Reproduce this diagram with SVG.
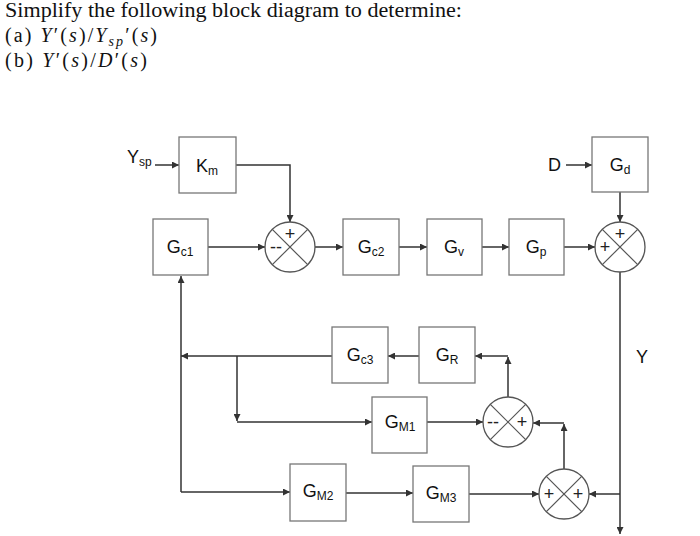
<svg xmlns="http://www.w3.org/2000/svg" width="700" height="536" viewBox="0 0 700 536">
<defs>
<marker id="ah" viewBox="0 0 10 10" refX="10" refY="5" markerWidth="7" markerHeight="7" markerUnits="userSpaceOnUse" orient="auto">
<path d="M0,0 L10,5 L0,10 z" fill="#333"/>
</marker>
<style>
.t{font-family:"Liberation Serif","DejaVu Serif",serif;font-size:20px;fill:#111}
.i{font-style:italic}
.blk rect{fill:#fff;stroke:#777;stroke-width:1.3}
.lbl{font-family:"Liberation Sans",Arial,sans-serif;font-size:18px;fill:#111}
.sub{font-size:12px}
.sum circle{fill:#fff;stroke:#555;stroke-width:1.3}
.sum line{stroke:#555;stroke-width:1.2}
.sg{font-family:"Liberation Sans",Arial,sans-serif;font-size:18px;fill:#222;text-anchor:middle}
.c path,.c line{fill:none;stroke:#333;stroke-width:1.5}
.a{marker-end:url(#ah)}
</style>
</defs>
<rect width="700" height="536" fill="#fff"/>
<g id="title">
<text class="t" x="5" y="17" textLength="457" lengthAdjust="spacingAndGlyphs">Simplify the following block diagram to determine:</text>
<text class="t" x="5" y="42" textLength="152" lengthAdjust="spacing">(a) <tspan class="i">Y</tspan>′(<tspan class="i">s</tspan>)/<tspan class="i">Y</tspan><tspan class="i" font-size="14" dy="4">sp</tspan><tspan dy="-4">′(</tspan><tspan class="i">s</tspan>)</text>
<text class="t" x="5" y="67" textLength="142" lengthAdjust="spacing">(b) <tspan class="i">Y</tspan>′(<tspan class="i">s</tspan>)/<tspan class="i">D</tspan>′(<tspan class="i">s</tspan>)</text>
</g>
<g id="labels">
<text class="lbl" x="127" y="163">Y<tspan class="sub" dy="3">sp</tspan></text>
<text class="lbl" x="548" y="171">D</text>
<text class="lbl" x="636" y="363">Y</text>
</g>
<g class="c" id="connectors">
<line class="a" x1="155" y1="165" x2="179" y2="165"/>
<path class="a" d="M236,165 H290 V222"/>
<line class="a" x1="208" y1="247" x2="265" y2="247"/>
<line class="a" x1="315" y1="247" x2="343" y2="247"/>
<line class="a" x1="399" y1="247" x2="427" y2="247"/>
<line class="a" x1="482" y1="247" x2="509" y2="247"/>
<line class="a" x1="564" y1="247" x2="595" y2="247"/>
<line class="a" x1="566" y1="165" x2="592" y2="165"/>
<line class="a" x1="620" y1="192" x2="620" y2="222"/>
<line class="a" x1="620" y1="272" x2="620" y2="534"/>
<line class="a" x1="620" y1="494" x2="589" y2="494"/>
<line class="a" x1="564" y1="469" x2="564" y2="424"/>
<line class="a" x1="564" y1="423" x2="533" y2="423"/>
<line class="a" x1="508" y1="397" x2="508" y2="357"/>
<line class="a" x1="508" y1="356" x2="475" y2="356"/>
<line class="a" x1="419" y1="356" x2="388" y2="356"/>
<line class="a" x1="332" y1="356" x2="181" y2="356"/>
<line class="a" x1="237" y1="356" x2="237" y2="421"/>
<line class="a" x1="237" y1="422" x2="372" y2="422"/>
<line class="a" x1="427" y1="422" x2="483" y2="422"/>
<line class="a" x1="181" y1="492" x2="181" y2="276"/>
<line class="a" x1="181" y1="492" x2="290" y2="492"/>
<line class="a" x1="346" y1="493" x2="413" y2="493"/>
<line class="a" x1="469" y1="494" x2="539" y2="494"/>
</g>
<g class="blk" id="Km"><rect x="179" y="137" width="57" height="56"/><text class="lbl" x="207" y="172" text-anchor="middle">K<tspan class="sub" dy="3">m</tspan></text></g>
<g class="blk" id="Gc1"><rect x="153" y="219" width="55" height="56"/><text class="lbl" x="180" y="253" text-anchor="middle">G<tspan class="sub" dy="3">c1</tspan></text></g>
<g class="blk" id="Gc2"><rect x="343" y="219" width="56" height="56"/><text class="lbl" x="371" y="253" text-anchor="middle">G<tspan class="sub" dy="3">c2</tspan></text></g>
<g class="blk" id="Gv"><rect x="427" y="219" width="55" height="56"/><text class="lbl" x="454" y="253" text-anchor="middle">G<tspan class="sub" dy="3">v</tspan></text></g>
<g class="blk" id="Gp"><rect x="509" y="219" width="55" height="56"/><text class="lbl" x="536" y="253" text-anchor="middle">G<tspan class="sub" dy="3">p</tspan></text></g>
<g class="blk" id="Gd"><rect x="592" y="137" width="56" height="55"/><text class="lbl" x="620" y="171" text-anchor="middle">G<tspan class="sub" dy="3">d</tspan></text></g>
<g class="blk" id="Gc3"><rect x="332" y="327" width="56" height="56"/><text class="lbl" x="360" y="361" text-anchor="middle">G<tspan class="sub" dy="3">c3</tspan></text></g>
<g class="blk" id="GR"><rect x="419" y="327" width="56" height="56"/><text class="lbl" x="447" y="361" text-anchor="middle">G<tspan class="sub" dy="3">R</tspan></text></g>
<g class="blk" id="GM1"><rect x="372" y="397" width="55" height="56"/><text class="lbl" x="400" y="428" text-anchor="middle">G<tspan class="sub" dy="3">M1</tspan></text></g>
<g class="blk" id="GM2"><rect x="290" y="464" width="56" height="57"/><text class="lbl" x="318" y="497" text-anchor="middle">G<tspan class="sub" dy="3">M2</tspan></text></g>
<g class="blk" id="GM3"><rect x="413" y="466" width="56" height="56"/><text class="lbl" x="441" y="499" text-anchor="middle">G<tspan class="sub" dy="3">M3</tspan></text></g>
<g class="sum" id="S1"><circle cx="290" cy="247" r="25"/><line x1="272.3" y1="229.3" x2="307.7" y2="264.7"/><line x1="307.7" y1="229.3" x2="272.3" y2="264.7"/><text class="sg" x="290" y="240">+</text><text class="sg" x="276" y="253">--</text></g>
<g class="sum" id="S2"><circle cx="620" cy="247" r="25"/><line x1="602.3" y1="229.3" x2="637.7" y2="264.7"/><line x1="637.7" y1="229.3" x2="602.3" y2="264.7"/><text class="sg" x="620" y="240">+</text><text class="sg" x="605" y="253">+</text></g>
<g class="sum" id="S3"><circle cx="508" cy="422" r="25"/><line x1="490.3" y1="404.3" x2="525.7" y2="439.7"/><line x1="525.7" y1="404.3" x2="490.3" y2="439.7"/><text class="sg" x="493" y="428">--</text><text class="sg" x="522" y="428">+</text></g>
<g class="sum" id="S4"><circle cx="564" cy="494" r="25"/><line x1="546.3" y1="476.3" x2="581.7" y2="511.7"/><line x1="581.7" y1="476.3" x2="546.3" y2="511.7"/><text class="sg" x="549" y="500">+</text><text class="sg" x="578" y="500">+</text></g>
</svg>
